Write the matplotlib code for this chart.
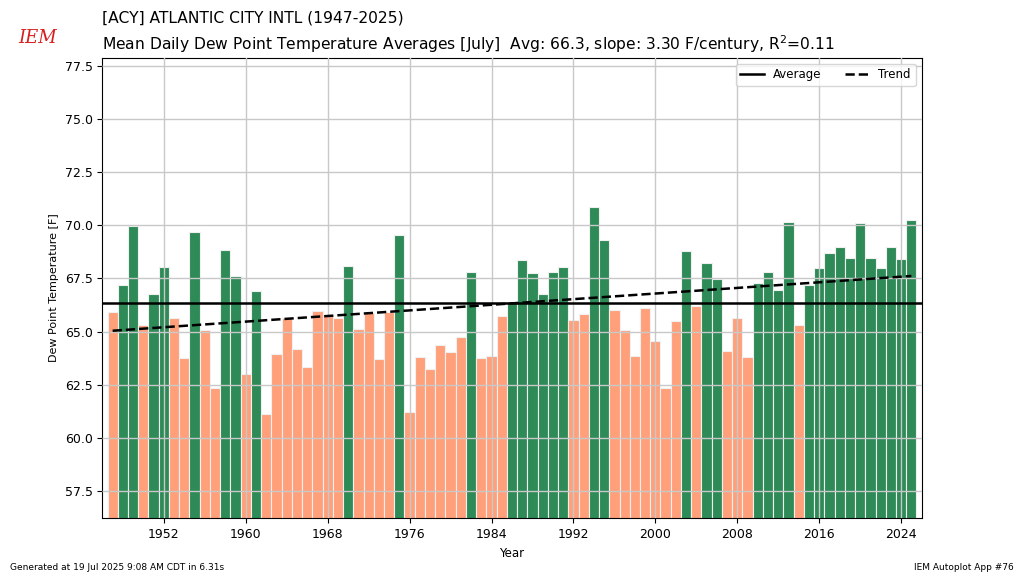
import matplotlib
matplotlib.use("Agg")
import matplotlib.pyplot as plt
import numpy as np

years = np.arange(1947, 2026)
dewpoint = [
    65.90, 67.21, 69.98, 65.32, 66.77, 68.04, 65.65, 63.77, 69.68, 65.05,  # 1947-1956
    62.33, 68.85, 67.63, 62.98, 66.91, 61.12, 63.93, 65.66, 64.20, 63.33,  # 1957-1966
    65.98, 65.74, 65.65, 68.09, 65.11, 65.88, 63.69, 65.90, 69.53, 61.21,  # 1967-1976
    63.82, 63.25, 64.35, 64.04, 64.72, 67.79, 63.74, 63.86, 65.74, 66.38,  # 1977-1986
    68.39, 67.74, 66.77, 67.79, 68.04, 65.55, 65.82, 70.85, 69.29, 66.01,  # 1987-1996
    65.09, 63.86, 66.09, 64.56, 62.33, 65.50, 68.80, 66.22, 68.23, 67.48,  # 1997-2006
    64.07, 65.66, 63.82, 67.29, 67.79, 66.96, 70.17, 65.32, 67.19, 67.97,  # 2007-2016
    68.71, 68.99, 68.47, 70.09, 68.47, 68.01, 68.96, 68.42, 70.25,         # 2017-2025
]

vals = np.array(dewpoint)
avg = vals.mean()
slope, intercept = np.polyfit(years, vals, 1)
colors = ["seagreen" if v >= avg else "lightsalmon" for v in vals]

fig = plt.figure(figsize=(10.24, 5.76), dpi=100)
ax = fig.add_axes([0.1, 0.1, 0.8, 0.8])

ax.bar(years, vals, width=1.0, color=colors, edgecolor="#f0f0f0", linewidth=0.8, zorder=2)
ax.axhline(avg, color="k", lw=1.8, label="Average", zorder=3)
ax.plot(years, slope * years + intercept, "k--", lw=1.8, label="Trend", zorder=3)

ax.set_ylim(56.2, 77.9)
ax.set_xlim(1946, 2026)
ax.set_xticks(np.arange(1952, 2026, 8))
ax.set_yticks(np.arange(57.5, 77.6, 2.5))
ax.set_axisbelow(False)
ax.grid(True, color="#c8c8c8", lw=1)
ax.set_xlabel("Year", fontsize=8.5)
ax.set_ylabel("Dew Point Temperature [F]", fontsize=8)
ax.tick_params(labelsize=9)
ax.legend(loc="upper right", ncol=2, fontsize=8.5)

fig.text(0.1, 0.982, "[ACY] ATLANTIC CITY INTL (1947-2025)", fontsize=11.2, va="top")
fig.text(0.1, 0.942,
         "Mean Daily Dew Point Temperature Averages [July]  Avg: 66.3, slope: 3.30 F/century, R$^2$=0.11",
         fontsize=11.2, va="top")
fig.text(0.018, 0.925, "IEM", color="#d62020", fontsize=13, family="serif", style="italic")
fig.text(0.01, 0.01, "Generated at 19 Jul 2025 9:08 AM CDT in 6.31s", fontsize=6.5)
fig.text(0.99, 0.01, "IEM Autoplot App #76", fontsize=6.5, ha="right")

fig.savefig("out.png", dpi=100)
